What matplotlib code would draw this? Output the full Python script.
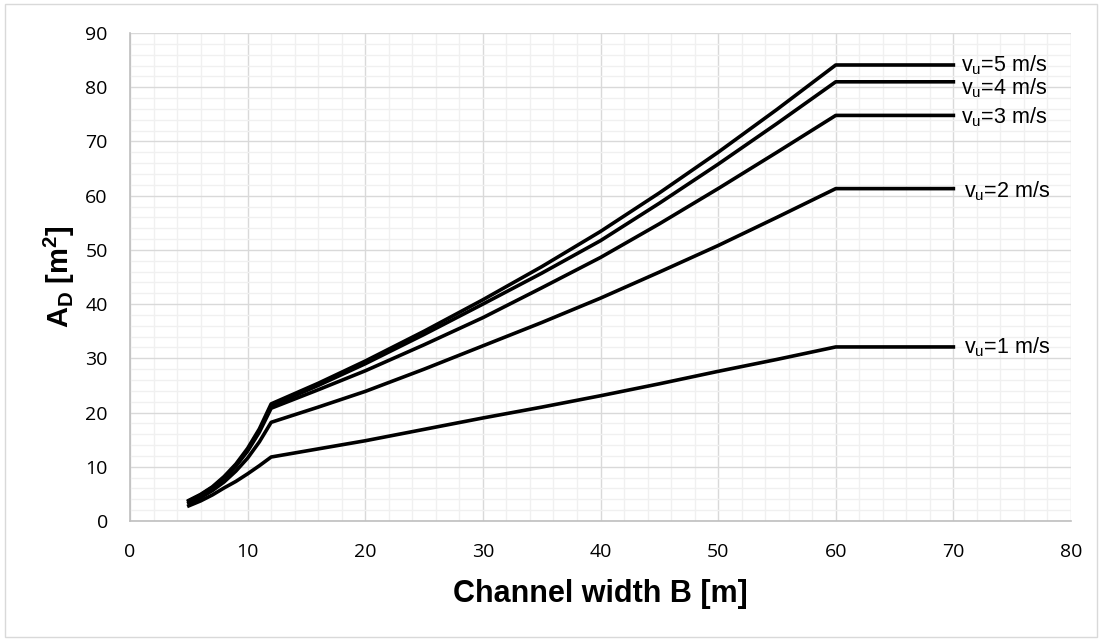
import matplotlib
matplotlib.use("Agg")
import matplotlib.pyplot as plt
from matplotlib.patches import Rectangle
from matplotlib.ticker import MultipleLocator

plt.rcParams['mathtext.fontset'] = 'custom'
plt.rcParams['mathtext.rm'] = 'Liberation Sans'
plt.rcParams['mathtext.it'] = 'Liberation Sans:italic'
plt.rcParams['mathtext.bf'] = 'Liberation Sans:bold'

# Data
width_B = [5, 6, 7, 8, 9, 10, 11, 12, 16, 20, 25, 30, 35, 40, 45, 50, 55, 60, 70]
area_v1 = [2.8, 3.7, 4.8, 6.1, 7.3, 8.7, 10.2, 11.8, 13.3, 14.8, 16.9, 19.0, 21.0, 23.1, 25.3, 27.6, 29.8, 32.1, 32.1]
area_v2 = [3.3, 4.3, 5.6, 7.2, 9.2, 11.6, 14.6, 18.2, 21.0, 23.9, 28.0, 32.3, 36.6, 41.1, 45.9, 50.8, 56.0, 61.3, 61.3]
area_v3 = [3.6, 4.7, 6.1, 7.9, 10.1, 12.9, 16.4, 20.8, 24.2, 27.7, 32.5, 37.5, 43.0, 48.6, 54.8, 61.3, 68.0, 74.8, 74.8]
area_v4 = [3.7, 4.8, 6.2, 8.0, 10.3, 13.1, 16.7, 21.2, 25.0, 29.0, 34.4, 40.0, 45.7, 51.7, 58.6, 65.8, 73.3, 81.0, 81.0]
area_v5 = [3.8, 4.9, 6.3, 8.2, 10.5, 13.4, 17.0, 21.6, 25.4, 29.5, 35.0, 40.8, 46.9, 53.4, 60.5, 68.0, 75.9, 84.1, 84.1]
series = [area_v1, area_v2, area_v3, area_v4, area_v5]
labels = [r"v$_\mathregular{u}$=1 m/s", r"v$_\mathregular{u}$=2 m/s",
          r"v$_\mathregular{u}$=3 m/s", r"v$_\mathregular{u}$=4 m/s",
          r"v$_\mathregular{u}$=5 m/s"]
label_offsets = [(8, -0.5), (8, -1.8), (5.5, -1.6), (5.5, -4.6), (5.5, 0.0)]

x_ticks = [0, 10, 20, 30, 40, 50, 60, 70, 80]
y_ticks = [0, 10, 20, 30, 40, 50, 60, 70, 80, 90]

fig = plt.figure(figsize=(11.02, 6.41), dpi=100)
ax = fig.add_axes([130/1102, 1 - 521/641, (1071-130)/1102, (521-33)/641])

ax.set_xlim(0, 80)
ax.set_ylim(0, 90)
ax.set_xticks(x_ticks)
ax.set_yticks(y_ticks)
ax.xaxis.set_minor_locator(MultipleLocator(2))
ax.yaxis.set_minor_locator(MultipleLocator(2))
ax.grid(True, which='minor', color='#f0f0f0', linewidth=1.0, zorder=0)
ax.grid(True, which='major', color='#d9d9d9', linewidth=1.0, zorder=0.5)
ax.set_axisbelow(True)
ax.tick_params(which='both', length=0)
ax.tick_params(axis='x', pad=16, labelsize=14)
ax.tick_params(axis='y', pad=16, labelsize=14)
for lbl in ax.get_xticklabels() + ax.get_yticklabels():
    lbl.set_fontfamily('Open Sans')
    lbl.set_color('#000000')

for s in ['top', 'right']:
    ax.spines[s].set_visible(False)
for s in ['left', 'bottom']:
    ax.spines[s].set_color('#bfbfbf')
    ax.spines[s].set_linewidth(1.2)

for vals, lab, off in zip(series, labels, label_offsets):
    ax.plot(width_B, vals, color='black', linewidth=2.6, solid_joinstyle='round', zorder=3)
    ax.annotate(lab, xy=(width_B[-1], vals[-1]), xytext=off, textcoords='offset points',
                ha='left', va='center', fontsize=15.5, family='Liberation Sans',
                annotation_clip=False)

ax.set_xlabel("Channel width B [m]", fontsize=22, fontweight='bold',
              family='Liberation Sans', labelpad=13)
ax.set_ylabel(r"$\mathbf{A_D}$ [m$^\mathbf{2}$]", fontsize=21, fontweight='bold',
              family='Liberation Sans', labelpad=6)

fig.patches.append(Rectangle((5/1102, 4/641), 1092/1102, 633/641, transform=fig.transFigure,
                             fill=False, edgecolor='#d9d9d9', linewidth=1.0))

fig.savefig("out.png", dpi=100)
